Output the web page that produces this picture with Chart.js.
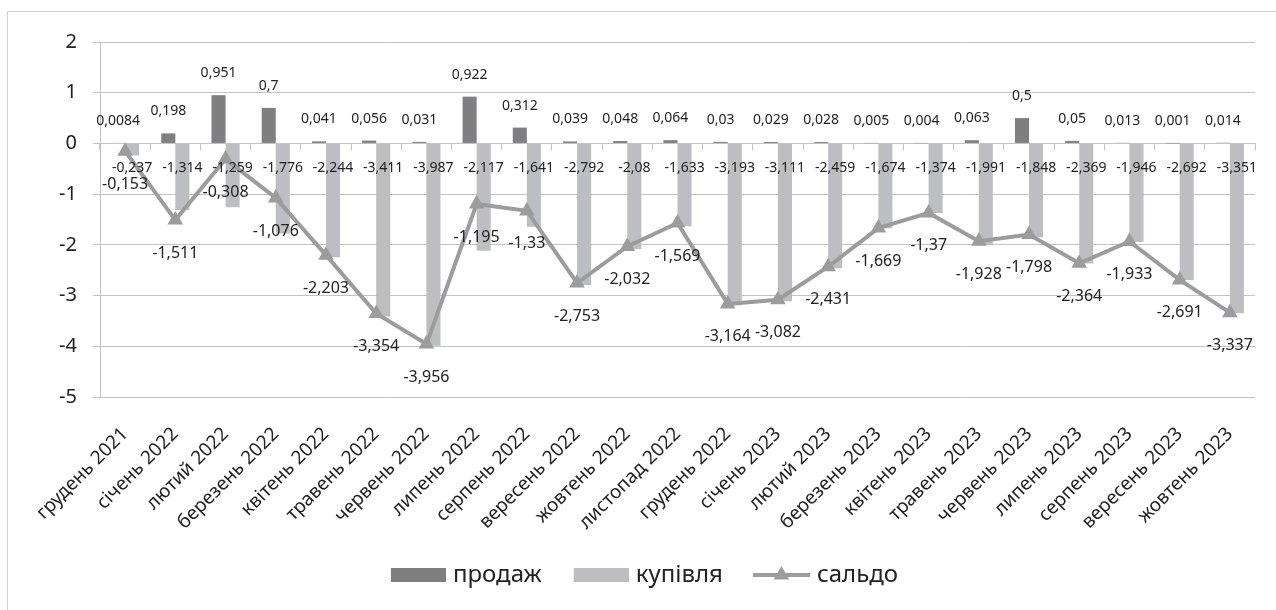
<!DOCTYPE html>
<html><head><meta charset="utf-8">
<script src="https://cdn.jsdelivr.net/npm/chart.js@4/dist/chart.umd.min.js"></script>
<style>html,body{margin:0;padding:0;background:#fff}#wrap{width:1276px;height:610px;position:relative}canvas{display:block}</style>
</head><body><div id="wrap"><canvas id="c" width="1276" height="610"></canvas></div>
<script>
const categories = ['грудень 2021','січень 2022','лютий 2022','березень 2022','квітень 2022','травень 2022','червень 2022','липень 2022','серпень 2022','вересень 2022','жовтень 2022','листопад 2022','грудень 2022','січень 2023','лютий 2023','березень 2023','квітень 2023','травень 2023','червень 2023','липень 2023','серпень 2023','вересень 2023','жовтень 2023'];
const prodazh = [0.0084,0.198,0.951,0.7,0.041,0.056,0.031,0.922,0.312,0.039,0.048,0.064,0.03,0.029,0.028,0.005,0.004,0.063,0.5,0.05,0.013,0.001,0.014];
const kupivlia = [-0.237,-1.314,-1.259,-1.776,-2.244,-3.411,-3.987,-2.117,-1.641,-2.792,-2.08,-1.633,-3.193,-3.111,-2.459,-1.674,-1.374,-1.991,-1.848,-2.369,-1.946,-2.692,-3.351];
const saldo = [-0.153,-1.511,-0.308,-1.076,-2.203,-3.354,-3.956,-1.195,-1.33,-2.753,-2.032,-1.569,-3.164,-3.082,-2.431,-1.669,-1.37,-1.928,-1.798,-2.364,-1.933,-2.691,-3.337];
const seriesNames = ['продаж','купівля','сальдо'];
const yTickValues = [2,1,0,-1,-2,-3,-4,-5];

const FONT = '"Noto Sans", "DejaVu Sans", sans-serif';
const TEXT = '#222222';
const C_DARK = '#7f7f81';
const C_LIGHT = '#bdbec1';
const C_LINE = '#9c9c9e';
const C_GRID = '#c3c3c3';

Chart.defaults.font.family = FONT;
Chart.defaults.color = TEXT;

const fmt = v => String(v).replace('.', ',');

function swatch(kind, color) {
  const c = document.createElement('canvas');
  c.width = 82; c.height = 22;
  const g = c.getContext('2d');
  g.fillStyle = color; g.strokeStyle = color;
  if (kind === 'box') {
    g.fillRect(27, 4, 55, 14);
  } else {
    g.lineWidth = 4;
    g.beginPath(); g.moveTo(25, 11); g.lineTo(82, 11); g.stroke();
    const cx = 53.5, cy = 11, r = 9;
    g.beginPath();
    g.moveTo(cx, cy - r);
    g.lineTo(cx + r * Math.sin(2*Math.PI/3), cy - r * Math.cos(2*Math.PI/3));
    g.lineTo(cx + r * Math.sin(4*Math.PI/3), cy - r * Math.cos(4*Math.PI/3));
    g.closePath(); g.fill();
  }
  return c;
}

const frame = {
  id: 'frame',
  beforeDraw(chart) {
    const ctx = chart.ctx;
    ctx.save();
    ctx.strokeStyle = '#cfcfcf'; ctx.lineWidth = 1;
    ctx.beginPath();
    ctx.moveTo(7.5, 610); ctx.lineTo(7.5, 11.5); ctx.lineTo(1276, 11.5);
    ctx.stroke();
    ctx.restore();
  }
};

const valueLabels = {
  id: 'valueLabels',
  afterDatasetsDraw(chart) {
    const ctx = chart.ctx;
    const y0 = chart.scales.y.getPixelForValue(0);
    ctx.save();
    ctx.fillStyle = TEXT;
    ctx.textAlign = 'center';
    ctx.textBaseline = 'middle';
    chart.data.datasets.forEach((ds, di) => {
      const meta = chart.getDatasetMeta(di);
      meta.data.forEach((el, i) => {
        const v = ds.data[i];
        let y;
        if (ds.labelMode === 'above') { ctx.font = '14px ' + FONT; y = el.y - 22; }
        else if (ds.labelMode === 'base') { ctx.font = '14px ' + FONT; y = y0 + 25; }
        else { ctx.font = '16px ' + FONT; y = el.y + 33; }
        ctx.fillText(fmt(v), el.x, y);
      });
    });
    ctx.restore();
  }
};

const swatches = [swatch('box', C_DARK), swatch('box', C_LIGHT), swatch('line', C_LINE)];

new Chart(document.getElementById('c'), {
  type: 'bar',
  data: {
    labels: categories,
    datasets: [
      { label: seriesNames[0], data: prodazh, backgroundColor: C_DARK, order: 1, labelMode: 'above',
        categoryPercentage: 0.56, barPercentage: 1.0 },
      { label: seriesNames[1], data: kupivlia, backgroundColor: C_LIGHT, order: 1, labelMode: 'base',
        categoryPercentage: 0.56, barPercentage: 1.0 },
      { type: 'line', label: seriesNames[2], data: saldo, borderColor: C_LINE, backgroundColor: C_LINE,
        borderWidth: 4, pointStyle: 'triangle', pointRadius: 9, pointHoverRadius: 9, pointBorderWidth: 0,
        pointBackgroundColor: C_LINE, tension: 0, order: 0, labelMode: 'below' }
    ]
  },
  options: {
    responsive: false,
    animation: false,
    devicePixelRatio: 1,
    layout: { padding: { left: 12, top: 42, right: 21, bottom: 13 } },
    plugins: {
      tooltip: { enabled: false },
      legend: {
        position: 'bottom',
        labels: {
          usePointStyle: true,
          pointStyleWidth: 72,
          padding: 10,
          color: TEXT,
          font: { size: 24, family: FONT },
          generateLabels: () => seriesNames.map((n, i) => ({
            text: n, pointStyle: swatches[i], fillStyle: 'transparent', strokeStyle: 'transparent',
            lineWidth: 0, hidden: false, datasetIndex: i, fontColor: TEXT
          }))
        }
      }
    },
    scales: {
      x: {
        type: 'category',
        grid: { display: false },
        border: { display: false },
        ticks: { autoSkip: false, maxRotation: 45, minRotation: 45, padding: 18, color: TEXT, font: { size: 19 } },
        afterFit(s) { s.height = 156; }
      },
      x2: {
        type: 'category',
        position: { y: 0 },
        offset: true,
        grid: { offset: true, drawOnChartArea: false, drawTicks: true, tickLength: 6, color: C_GRID },
        border: { display: true, color: C_GRID, width: 1 },
        ticks: { display: false }
      },
      y: {
        min: -5, max: 2,
        afterBuildTicks(s) { s.ticks = yTickValues.map(v => ({ value: v })); },
        grid: { color: C_GRID, tickLength: 7, lineWidth: 1 },
        border: { display: true, color: C_GRID },
        ticks: { padding: 16, color: TEXT, font: { size: 20 }, callback: v => fmt(v) },
        afterFit(s) { s.width = 88; }
      }
    }
  },
  plugins: [frame, valueLabels]
});
</script>
</body></html>
